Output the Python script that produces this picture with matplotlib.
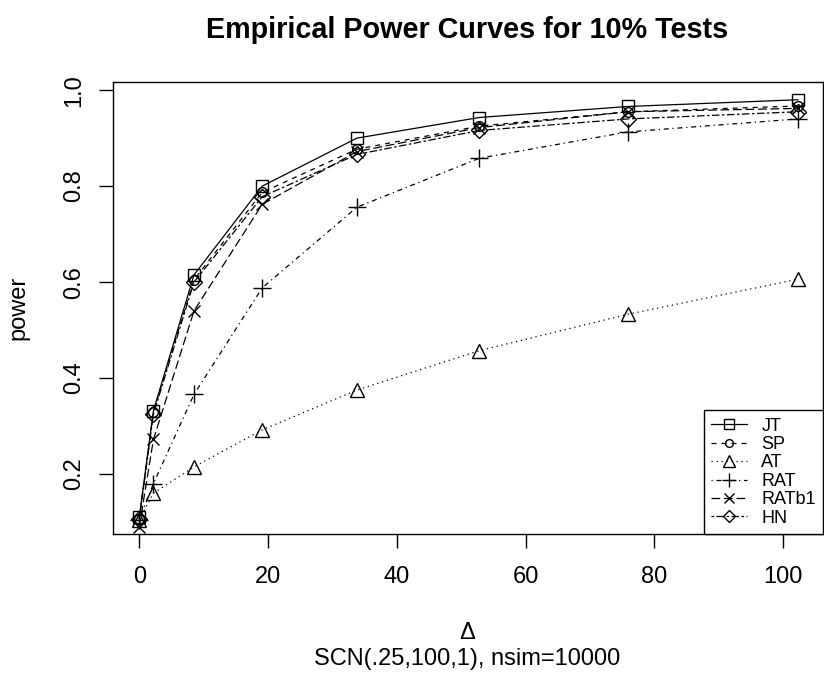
import numpy as np
import matplotlib
matplotlib.use("Agg")
from matplotlib import pyplot as plt

plt.rcParams['font.family'] = ['Liberation Sans', 'DejaVu Sans']

# x positions (Delta) and empirical power for each test
delta = [0, 2.2, 8.5, 19.1, 33.8, 52.8, 75.9, 102.3]

jt = [0.110, 0.332, 0.615, 0.800, 0.900, 0.943, 0.966, 0.980]
sp = [0.106, 0.330, 0.605, 0.787, 0.877, 0.925, 0.955, 0.967]
at = [0.105, 0.160, 0.215, 0.292, 0.375, 0.457, 0.533, 0.606]
rat = [0.105, 0.180, 0.366, 0.588, 0.756, 0.858, 0.913, 0.940]
ratb1 = [0.090, 0.272, 0.540, 0.762, 0.872, 0.922, 0.955, 0.962]
hn = [0.106, 0.325, 0.600, 0.778, 0.866, 0.916, 0.940, 0.955]

labels = ["JT", "SP", "AT", "RAT", "RATb1", "HN"]
series = [jt, sp, at, rat, ratb1, hn]

# R style lty 1..6 and pch 0..5
dashes = [None, (4, 4), (1, 3), (1, 3, 4, 3), (7, 3), (2, 2, 6, 2)]
markers = ["s", "o", "^", "+", "x", "D"]
msizes = [9, 7, 10, 13, 9, 8]

fig = plt.figure(figsize=(8.24, 6.75), dpi=100)

# plot box in pixels: left 113, right 823, top 82, bottom 534
W, H = 824, 675
ax = fig.add_axes([113 / W, (H - 534) / H, (823 - 113) / W, (534 - 82) / H])
ax.set_xlim(-4.08, 106.2)
ax.set_ylim(0.075, 1.017)

for y, lab, ds, mk, ms in zip(series, labels, dashes, markers, msizes):
    line, = ax.plot(delta, y, color="black", lw=0.9, marker=mk, markersize=ms,
                    mfc="none", mec="black", mew=1.0, label=lab, clip_on=False)
    if ds is not None:
        line.set_dashes(ds)

ax.set_xticks([0, 20, 40, 60, 80, 100])
ax.set_yticks([0.2, 0.4, 0.6, 0.8, 1.0])
ax.set_yticklabels(["0.2", "0.4", "0.6", "0.8", "1.0"], rotation=90, va="center")
ax.tick_params(direction="out", length=10, width=1, labelsize=17)
ax.tick_params(axis="x", pad=13)
ax.tick_params(axis="y", pad=10)
for s in ax.spines.values():
    s.set_linewidth(1)

fig.text(467 / W, 1 - 30 / H, "Empirical Power Curves for 10% Tests",
         ha="center", va="center", fontsize=20.7, fontweight="bold")
fig.text(18 / W, 1 - 308 / H, "power", rotation=90, ha="center", va="center", fontsize=17)
fig.text(467 / W, 1 - 633 / H, "Δ", ha="center", va="center", fontsize=17)
fig.text(467 / W, 1 - 659 / H, "SCN(.25,100,1), nsim=10000", ha="center", va="center", fontsize=17)

leg = ax.legend(loc="lower right", borderaxespad=0, fancybox=False, framealpha=1,
                edgecolor="black", fontsize=13, handlelength=2.0, labelspacing=0.08,
                handletextpad=0.8, borderpad=0.4, markerscale=0.8)
leg.get_frame().set_linewidth(1)

fig.savefig("out.png", dpi=100)
